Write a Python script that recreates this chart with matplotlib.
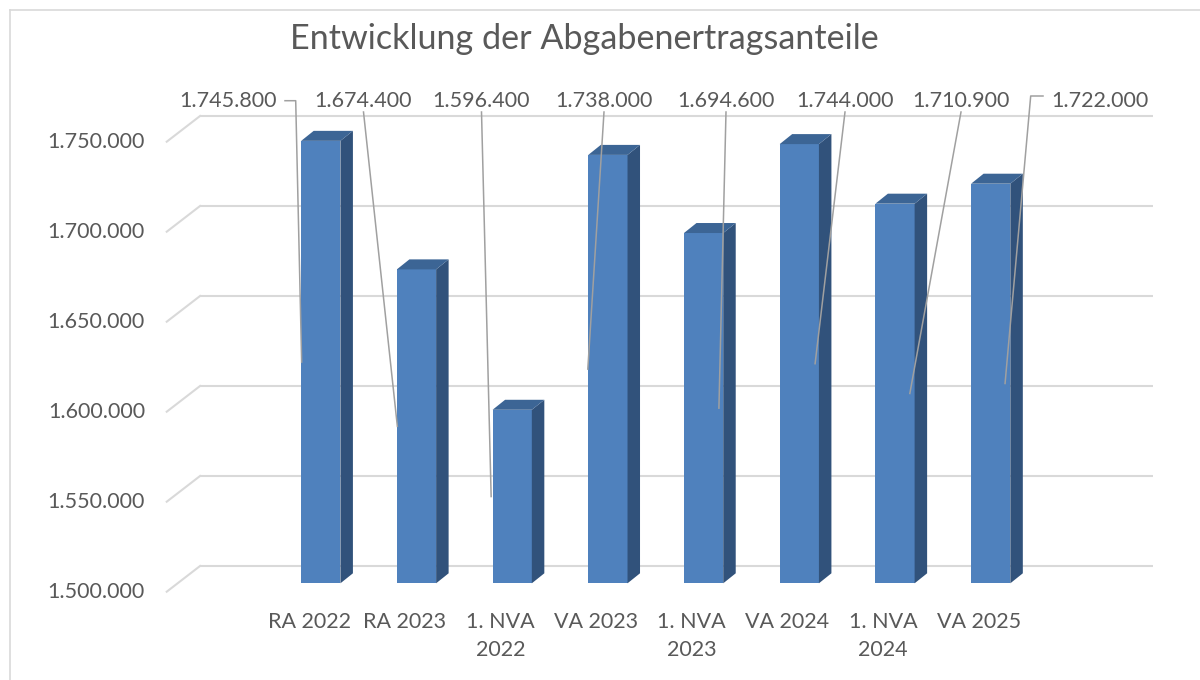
import matplotlib.pyplot as plt
from matplotlib.patches import Polygon, Rectangle

plt.rcParams["font.family"] = ["Lato", "DejaVu Sans"]

categories = ["RA 2022", "RA 2023", "1. NVA\n2022", "VA 2023",
              "1. NVA\n2023", "VA 2024", "1. NVA\n2024", "VA 2025"]
values = [1745800, 1674400, 1596400, 1738000, 1694600, 1744000, 1710900, 1722000]
value_labels = ["1.745.800", "1.674.400", "1.596.400", "1.738.000",
                "1.694.600", "1.744.000", "1.710.900", "1.722.000"]
y_ticks = [1500000, 1550000, 1600000, 1650000, 1700000, 1750000]
y_tick_labels = ["1.500.000", "1.550.000", "1.600.000", "1.650.000", "1.700.000", "1.750.000"]
title = "Entwicklung der Abgabenertragsanteile"

# layout: pixel mapping of the bar plane
W, H = 1200, 680
X0_PX, PX_PER_CAT = 320.8, 95.7
BASE, BASE_PX, PX_PER_UNIT = 1500000, 583.3, 0.0018

TEXT = "#595959"
GRID = "#D9D9D9"
LEADER = "#A0A0A0"
FRONT, SIDE, TOP = "#4F81BD", "#31527B", "#3C6595"


def px(x, y):
    """pixel position (top-left origin) -> data coords"""
    return (x - X0_PX) / PX_PER_CAT, BASE + (BASE_PX - y) / PX_PER_UNIT


fig = plt.figure(figsize=(W / 100, H / 100), dpi=100)
ax = fig.add_axes([0, 0, 1, 1])
ax.set_xlim(px(0, 0)[0], px(W, 0)[0])
ax.set_ylim(px(0, H)[1], px(0, 0)[1])
ax.axis("off")

# chart border (only top/left visible in the crop)
fig.add_artist(plt.Line2D([10 / W, 10 / W], [0, 1 - 10 / H], color=GRID, lw=1.2))
fig.add_artist(plt.Line2D([10 / W, 1], [1 - 10 / H, 1 - 10 / H], color=GRID, lw=1.2))

# walls: back gridlines and diagonal floor/side edges
wall_left, wall_right = -1.496, 8.462
back_dx, back_dy = 22.4 / PX_PER_CAT, 17.3 / PX_PER_UNIT
front_dx, front_dy = -10.9 / PX_PER_CAT, -8.4 / PX_PER_UNIT
for v, lab in zip(y_ticks, y_tick_labels):
    ax.plot([wall_left + back_dx, wall_right + back_dx], [v + back_dy, v + back_dy],
            color=GRID, lw=1.5, zorder=1, solid_capstyle="butt")
    ax.plot([wall_left + front_dx, wall_left + back_dx], [v + front_dy, v + back_dy],
            color=GRID, lw=1.5, zorder=1)
    ax.text(wall_left + front_dx - 21.7 / PX_PER_CAT, v + front_dy, lab,
            ha="right", va="center", fontsize=15.5, color=TEXT)

# 3D-look bars
w = 0.41
dx, dy = 12.5 / PX_PER_CAT, 10 / PX_PER_UNIT
for i, v in enumerate(values):
    l, r = i - w / 2, i + w / 2
    ax.add_patch(Rectangle((l, BASE), w, v - BASE, facecolor=FRONT, edgecolor="none", zorder=3))
    ax.add_patch(Polygon([(r, BASE), (r + dx, BASE + dy), (r + dx, v + dy), (r, v)],
                         facecolor=SIDE, edgecolor="none", zorder=3))
    ax.add_patch(Polygon([(l, v), (r, v), (r + dx, v + dy), (l + dx, v + dy)],
                         facecolor=TOP, edgecolor="none", zorder=3))
    ax.text(i - 11.8 / PX_PER_CAT, px(0, 612)[1], categories[i], ha="center", va="top",
            fontsize=15.5, color=TEXT, linespacing=1.5)

# data labels with leader lines
label_px = [228.5, 363.5, 481.5, 604, 726, 845, 961, 1100]
label_y = 100.7
end_dx = [-0.2, -0.2, -0.22, -0.21, 0.16, 0.165, 0.155, 0.15]
for i, (v, lab) in enumerate(zip(values, value_labels)):
    lx, ly = px(label_px[i], label_y)
    ax.text(lx, ly, lab, ha="center", va="center", fontsize=15.5, color=TEXT, zorder=5)
    end = (i + end_dx[i], (BASE + v) / 2)
    if i == 0:
        pts = [px(285, label_y), px(295.7, label_y), end]
    elif i == len(values) - 1:
        pts = [px(1043, 96), px(1030.7, 96), end]
    else:
        pts = [px(label_px[i], 112), end]
    ax.plot([p[0] for p in pts], [p[1] for p in pts], color=LEADER, lw=1.1, zorder=4)

fig.text(584 / W, 1 - 49.3 / H, title, ha="center", va="baseline", fontsize=24.6, color=TEXT)

fig.savefig("out.png", dpi=100, facecolor="white")
